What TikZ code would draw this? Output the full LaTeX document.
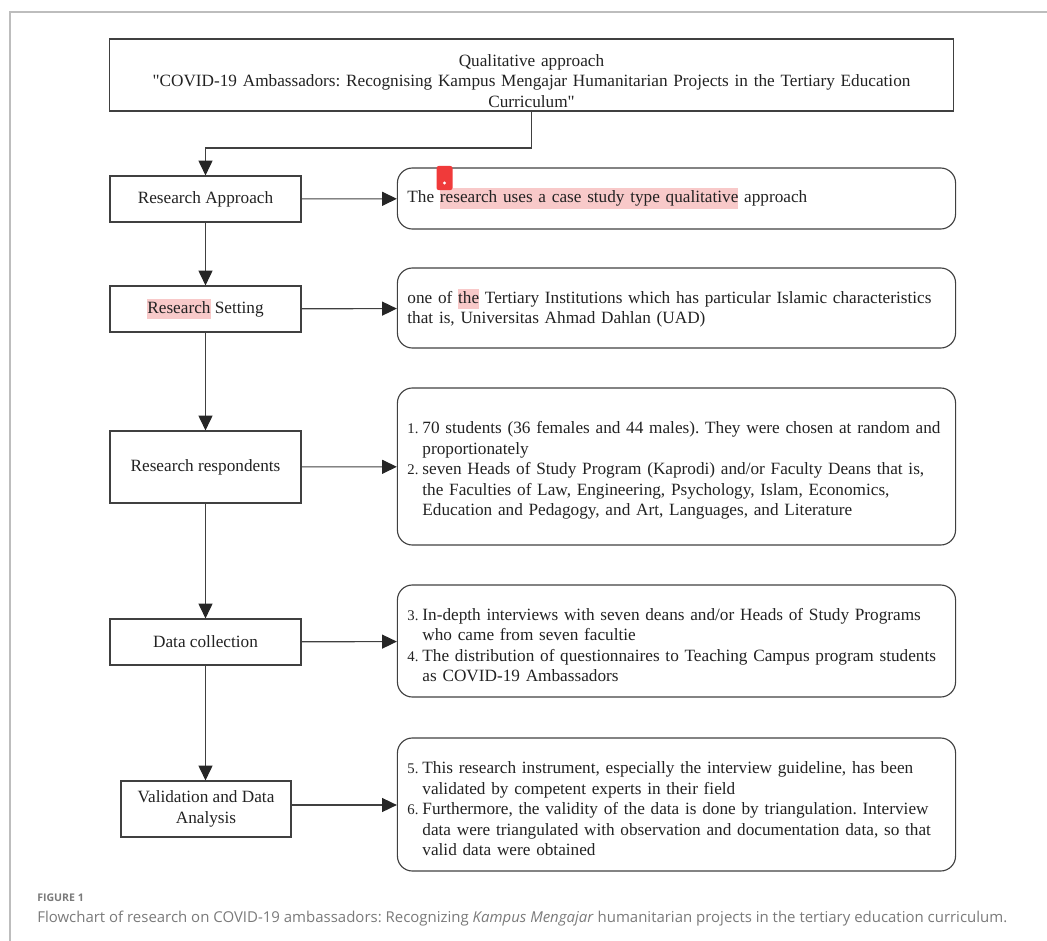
\documentclass[tikz,border=0pt]{standalone}
\usepackage{fontspec}
\setmainfont{Liberation Serif}[Ligatures=TeXOff]
\newfontfamily\capfont{Open Sans}
\usetikzlibrary{arrows.meta}

\definecolor{linegray}{HTML}{404040}
\definecolor{textdark}{HTML}{222222}
\definecolor{framegray}{HTML}{BDBDBD}
\definecolor{capgray}{HTML}{7A7A7A}
\definecolor{hlpink}{HTML}{F8C9C9}
\definecolor{markred}{HTML}{F03A3A}

% highlighted words
\newcommand{\hlt}[1]{{\setlength{\fboxsep}{0pt}\colorbox{hlpink}{\strut #1}}}
% numbered line with hanging indent
\newcommand{\listitem}[2]{\par\hangindent=0.375cm\hangafter=1\noindent\makebox[0.375cm][l]{\fontsize{10.5}{14.6}\selectfont #1}#2\par}
\frenchspacing
\hyphenpenalty=10000

\tikzset{
  stage/.style={draw=linegray, line width=0.8pt, minimum width=4.775cm, minimum height=1.15cm, align=center, inner sep=2pt},
  detail/.style={draw=linegray, line width=0.8pt, rounded corners=0.375cm, text width=13.45cm, inner xsep=0.25cm, align=left},
  arr/.style={draw=linegray, line width=0.8pt, -{Triangle[length=0.37cm,width=0.35cm,color=black!85]}},
}

\begin{document}
\begin{tikzpicture}[x=0.025cm, y=-0.025cm, font=\fontsize{12.25}{14.6}\selectfont, text=textdark]

    \useasboundingbox (0,0) rectangle (1047,941);

    % Frame
    \draw [framegray, line width=1.1pt] (1047,12) -- (10,12) -- (10,941);

    % Title
    \node [draw=linegray, line width=0.8pt, minimum width=21.075cm, minimum height=1.8cm] (title) at (531.5,75) {};
    \node [text width=20.5cm, align=center] (titletext) at (531.5,81)
        {Qualitative approach\\ "COVID-19 Ambassadors: Recognising Kampus Mengajar Humanitarian Projects in the Tertiary Education\\ Curriculum"};

    %% Stages
    \node [stage] (approach) at (205.5,199) {Research Approach};
    \node [stage] (setting) at (205.5,309) {\hlt{Research} Setting};
    \node [stage, minimum height=1.8cm] (respondents) at (205.5,467) {Research respondents};
    \node [stage] (collection) at (205.5,642) {Data collection};
    \node [stage, minimum width=4.25cm, minimum height=1.4cm] (validation) at (206,809) {Validation and Data\\ Analysis};

    %% Details
    \node [detail, minimum height=1.525cm] (approachtext) at (676.5,198.5)
        {The \hlt{research uses a case study type qualitative} approach};
    \node [detail, minimum height=2cm] (settingtext) at (676.5,308)
        {one of \hlt{the} Tertiary Institutions which has particular Islamic characteristics\newline that is, Universitas Ahmad Dahlan (UAD)};
    \node [detail, minimum height=3.925cm] (respondentstext) at (676.5,466.5)
        {\listitem{1.}{70 students (36 females and 44 males). They were chosen at random and\newline proportionately}%
         \listitem{2.}{seven Heads of Study Program (Kaprodi) and/or Faculty Deans that is,\newline the Faculties of Law, Engineering, Psychology, Islam, Economics,\newline Education and Pedagogy, and Art, Languages, and Literature}};
    \node [detail, minimum height=2.8cm] (collectiontext) at (676.5,641)
        {\listitem{3.}{In-depth interviews with seven deans and/or Heads of Study Programs\newline who came from seven facultie}%
         \listitem{4.}{The distribution of questionnaires to Teaching Campus program students\newline as COVID-19 Ambassadors}};
    \node [detail, minimum height=3.325cm] (validationtext) at (676.5,804.5)
        {\listitem{5.}{This research instrument, especially the interview guideline, has been\newline validated by competent experts in their field}%
         \listitem{6.}{Furthermore, the validity of the data is done by triangulation. Interview\newline data were triangulated with observation and documentation data, so that\newline valid data were obtained}};

    %% Annotation mark
    \node [fill=markred, rounded corners=1.5pt, minimum width=0.4cm, minimum height=0.6cm, inner sep=0] (mark) at (444.5,178) {};
    \fill [white] (mark.center) ++(0,5) circle (1.1pt);

    %% Connectors
    \coordinate (turn) at (531.5,148);
    \draw [arr] (title.south) -- (turn) -| (approach.north);
    \draw [arr] (approach) -- (setting);
    \draw [arr] (setting) -- (respondents);
    \draw [arr] (respondents) -- (collection);
    \draw [arr] (collection.south) -- (collection.south |- validation.north);

    \draw [arr] (approach) -- (approachtext);
    \draw [arr] (setting) -- (settingtext);
    \draw [arr] (respondents) -- (respondentstext);
    \draw [arr] (collection) -- (collectiontext);
    \draw [arr] ([yshift=0.1cm]validation.east) -- ([yshift=0.1cm]validation.east -| validationtext.west);

    %% Caption
    \node [anchor=base west, inner sep=0, text=capgray, font=\capfont\bfseries\fontsize{7.5}{9}\selectfont] (figlabel) at (37,901) {FIGURE 1};
    \node [anchor=base west, inner sep=0, text=capgray, font=\capfont\fontsize{10.65}{12}\selectfont] (caption) at (37,922)
        {Flowchart of research on COVID-19 ambassadors: Recognizing \textit{Kampus Mengajar} humanitarian projects in the tertiary education curriculum.};
\end{tikzpicture}
\end{document}
